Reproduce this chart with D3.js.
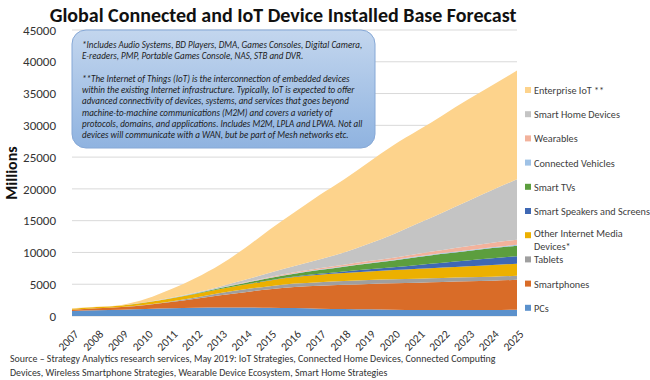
<!DOCTYPE html>
<html>
<head>
<meta charset="utf-8">
<script src="https://cdn.jsdelivr.net/npm/d3@7"></script>
<style>
body { margin: 0; background: #fff; }
svg { font-family: Carlito, "Liberation Sans Narrow", Lato, sans-serif; }
</style>
</head>
<body>
<div class="chart"></div>
<script>
// Global Connected and IoT Device Installed Base Forecast (millions)

var years = [2007, 2008, 2009, 2010, 2011, 2012, 2013, 2014, 2015, 2016, 2017, 2018, 2019, 2020, 2021, 2022, 2023, 2024, 2025];

var pcs        = [800, 900, 1000, 1100, 1200, 1300, 1350, 1350, 1300, 1250, 1150, 1100, 1050, 1000, 950, 950, 950, 950, 1000];
var phones     = [200, 300, 400, 650, 1000, 1400, 1900, 2400, 2900, 3300, 3600, 3800, 4000, 4150, 4300, 4400, 4500, 4600, 4700];
var tablets    = [0, 0, 0, 30, 100, 200, 350, 450, 500, 550, 580, 600, 610, 620, 630, 630, 630, 630, 630];
var otherMedia = [150, 200, 250, 350, 450, 550, 650, 750, 900, 1050, 1150, 1250, 1350, 1450, 1550, 1650, 1750, 1850, 1900];
var speakers   = [0, 0, 0, 0, 0, 0, 0, 0, 20, 60, 150, 250, 350, 450, 600, 750, 900, 1050, 1160];
var smartTvs   = [0, 0, 0, 20, 50, 100, 150, 250, 350, 450, 600, 750, 900, 1050, 1250, 1400, 1500, 1600, 1680];
var vehicles   = [0, 0, 0, 0, 10, 20, 30, 40, 50, 60, 70, 80, 90, 100, 110, 120, 130, 140, 150];
var wearables  = [0, 0, 0, 0, 0, 10, 30, 60, 100, 150, 200, 250, 300, 350, 420, 500, 600, 700, 790];
var smartHome  = [0, 0, 0, 20, 50, 100, 200, 400, 700, 1000, 1400, 1900, 2700, 3700, 4800, 5900, 7100, 8300, 9500];
var enterprise = [50, 50, 100, 550, 1350, 2300, 3450, 5000, 6800, 8450, 10100, 11500, 12850, 14000, 14600, 15300, 15950, 16500, 17100];

// bottom to top
var seriesNames = ["PCs", "Smartphones", "Tablets", "Other Internet Media Devices*", "Smart Speakers and Screens",
    "Smart TVs", "Connected Vehicles", "Wearables", "Smart Home Devices", "Enterprise IoT **"];
var seriesValues = [pcs, phones, tablets, otherMedia, speakers, smartTvs, vehicles, wearables, smartHome, enterprise];
var seriesColors = ["#5b91cc", "#d96c28", "#9f9f9f", "#ecb000", "#3f68b4", "#5c9e3e", "#9fc2e6", "#f2b29c", "#c4c4c4", "#fdd38c"];

var yTicks = [0, 5000, 10000, 15000, 20000, 25000, 30000, 35000, 40000, 45000];

var noteLines = [
    "*Includes Audio Systems, BD Players, DMA, Games Consoles, Digital Camera,",
    "E-readers, PMP, Portable Games Console, NAS, STB and DVR.",
    "",
    "**The Internet of Things (IoT) is the interconnection of embedded devices",
    "within the existing Internet infrastructure. Typically, IoT is expected to offer",
    "advanced connectivity of devices, systems, and services that goes beyond",
    "machine-to-machine communications (M2M) and covers a variety of",
    "protocols, domains, and applications. Includes M2M, LPLA and LPWA. Not all",
    "devices will communicate with a WAN, but be part of Mesh networks etc."
];

var sourceLines = [
    "Source \u2013 Strategy Analytics research services, May 2019: IoT Strategies, Connected Home Devices, Connected Computing",
    "Devices, Wireless Smartphone Strategies, Wearable Device Ecosystem,  Smart Home Strategies"
];

var svgWidth = 650;
var svgHeight = 380;

var margin = {top: 30, right: 133, bottom: 64, left: 72};
var width = svgWidth - margin.left - margin.right;
var height = svgHeight - margin.top - margin.bottom;

var svg = d3.select(".chart")
    .append("svg")
    .attr("width", svgWidth)
    .attr("height", svgHeight);

var defs = svg.append("defs");
var grad = defs.append("linearGradient")
    .attr("id", "noteFill")
    .attr("x1", 0).attr("y1", 0).attr("x2", 0).attr("y2", 1);
grad.append("stop").attr("offset", "0%").attr("stop-color", "#c3d6ee");
grad.append("stop").attr("offset", "100%").attr("stop-color", "#8fb3e0");

var chartGroup = svg.append("g")
    .attr("transform", `translate(${margin.left}, ${margin.top})`);

// build table for the stack
var table = years.map(function (yr, i) {
    var row = {year: yr};
    seriesNames.forEach(function (name, k) { row[name] = seriesValues[k][i]; });
    return row;
});

var stacked = d3.stack().keys(seriesNames)(table);

var xScale = d3.scaleLinear()
    .domain([years[0], years[years.length - 1]])
    .range([0, width]);

var yScale = d3.scaleLinear()
    .domain([0, 45000])
    .range([height, 0]);

// gridlines
chartGroup.append("g")
    .selectAll("line")
    .data(yTicks)
    .enter()
    .append("line")
    .attr("x1", 0)
    .attr("x2", width)
    .attr("y1", d => yScale(d))
    .attr("y2", d => yScale(d))
    .attr("stroke", "#d9d9d9")
    .attr("stroke-width", 1);

// areas
var area = d3.area()
    .x(d => xScale(d.data.year))
    .y0(d => yScale(d[0]))
    .y1(d => yScale(d[1]))
    .curve(d3.curveMonotoneX);

chartGroup.append("g")
    .selectAll("path")
    .data(stacked)
    .enter()
    .append("path")
    .attr("d", area)
    .attr("fill", (d, i) => seriesColors[i]);

// y axis
var leftAxis = d3.axisLeft(yScale).tickValues(yTicks).tickFormat(d3.format("d")).tickSize(0).tickPadding(16);
var yAxis = chartGroup.append("g").call(leftAxis);
yAxis.select(".domain").remove();
yAxis.selectAll("text")
    .attr("font-size", 13)
    .attr("fill", "#333")
    .style("font-family", "Carlito, Lato, sans-serif");

// x axis
var bottomAxis = d3.axisBottom(xScale).tickValues(years).tickFormat(d3.format("d")).tickSize(0);
var xAxis = chartGroup.append("g")
    .attr("transform", `translate(0, ${height})`)
    .call(bottomAxis);
xAxis.select(".domain").remove();
xAxis.selectAll("text")
    .attr("font-size", 11.5)
    .attr("fill", "#333")
    .attr("text-anchor", "end")
    .attr("dy", "0.35em")
    .attr("transform", "translate(2, 14) rotate(-45)")
    .style("font-family", "Carlito, Lato, sans-serif");

// title
svg.append("text")
    .attr("x", 283)
    .attr("y", 22)
    .attr("text-anchor", "middle")
    .attr("font-size", 20)
    .attr("font-weight", "bold")
    .attr("fill", "#111")
    .text("Global Connected and IoT Device Installed Base Forecast");

// y label
svg.append("text")
    .attr("transform", "translate(17, 173) rotate(-90)")
    .attr("text-anchor", "middle")
    .attr("font-size", 16)
    .attr("font-weight", "bold")
    .attr("fill", "#111")
    .text("Millions");

// note box
var note = svg.append("g");
note.append("rect")
    .attr("x", 72)
    .attr("y", 30)
    .attr("width", 303)
    .attr("height", 118)
    .attr("rx", 14)
    .attr("fill", "url(#noteFill)")
    .attr("stroke", "#86a8d6")
    .attr("stroke-width", 1);

var noteText = note.append("g").attr("transform", "translate(82, 0)");
noteText.selectAll("text")
    .data(noteLines)
    .enter()
    .append("text")
    .attr("x", 0)
    .attr("y", (d, i) => i < 3 ? 48 + i * 11 : 82 + (i - 3) * 11.2)
    .attr("font-size", 9.4)
    .attr("font-style", "italic")
    .attr("fill", "#1c1c1c")
    .text(d => d);

// squeeze the note text to the box width
var noteMax = d3.max(noteText.selectAll("text").nodes(), n => n.getComputedTextLength());
if (noteMax > 280) {
    noteText.attr("transform", `translate(82, 0) scale(${280 / noteMax}, 1)`);
}

// legend, top item first
var legend = svg.append("g").attr("transform", "translate(525, 0)");
var legendItems = seriesNames.slice().reverse();
var legendColors = seriesColors.slice().reverse();

legendItems.forEach(function (name, i) {
    var cy = 90 + i * 24.2;
    legend.append("rect")
        .attr("x", 0)
        .attr("y", cy - 3)
        .attr("width", 6)
        .attr("height", 6)
        .attr("fill", legendColors[i]);
    var t = legend.append("text")
        .attr("x", 9)
        .attr("y", cy + 4)
        .attr("font-size", 10.8)
        .attr("fill", "#404040");
    if (name == "Other Internet Media Devices*") {
        t.attr("y", cy + 2).text("Other Internet Media");
        legend.append("text")
            .attr("x", 9)
            .attr("y", cy + 15)
            .attr("font-size", 10.8)
            .attr("fill", "#404040")
            .text("Devices*");
    } else {
        t.text(name);
    }
});

var legendMax = d3.max(legend.selectAll("text").nodes(), n => n.getComputedTextLength());
if (legendMax > 116) {
    legend.selectAll("text").attr("transform", `translate(9, 0) scale(${116 / legendMax}, 1) translate(-9, 0)`);
}

// source
var source = svg.append("g").attr("transform", "translate(10, 0)");
source.selectAll("text")
    .data(sourceLines)
    .enter()
    .append("text")
    .attr("x", 0)
    .attr("y", (d, i) => 362 + i * 14)
    .attr("font-size", 10.5)
    .attr("fill", "#333")
    .text(d => d);

var sourceMax = d3.max(source.selectAll("text").nodes(), n => n.getComputedTextLength());
if (sourceMax > 486) {
    source.attr("transform", `translate(10, 0) scale(${486 / sourceMax}, 1)`);
}
</script>
</body>
</html>
